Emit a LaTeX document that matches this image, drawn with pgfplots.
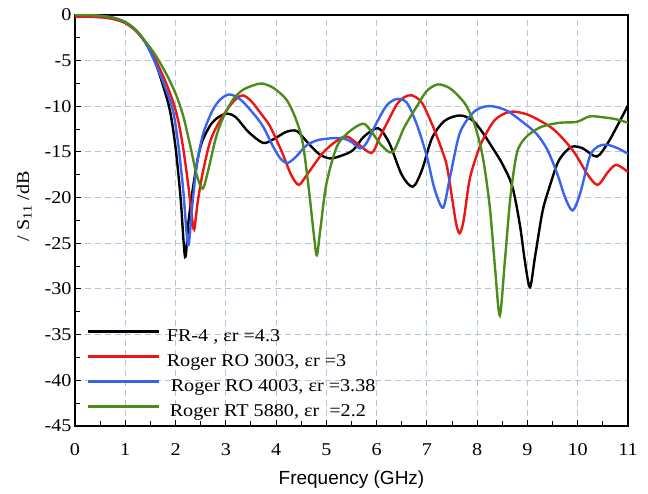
\documentclass[border=0pt]{standalone}
\usepackage{fontspec}
\setmainfont{Liberation Serif}[FakeStretch=1.12]
\newfontfamily\arialfont{Liberation Sans}
\usepackage{pgfplots}
\pgfplotsset{compat=1.18}
\definecolor{cred}{RGB}{238,20,20}
\definecolor{cblue}{RGB}{58,98,236}
\definecolor{cgreen}{RGB}{76,140,26}
\definecolor{gridc}{RGB}{176,196,222}
\begin{document}
\begin{tikzpicture}
\begin{axis}[
  scale only axis, width=553pt, height=411pt,
  xmin=0, xmax=11, ymin=-45, ymax=0,
  xtick={0,...,11}, ytick={-45,-40,...,0},
  minor x tick num=1, minor y tick num=1,
  tick pos=left, tick align=inside,
  major tick length=6pt, minor tick length=5pt,
  every tick/.style={black, line width=1pt},
  axis line style={line width=1.3pt},
  grid=major,
  grid style={gridc, line width=1pt, dash pattern=on 6pt off 4pt},
  tick label style={font=\fontsize{18}{21}\selectfont},
  xticklabel style={yshift=-14.5pt},
  /pgf/number format/assume math mode=true,
  xlabel={\arialfont Frequency (GHz)},
  xlabel style={at={(axis description cs:0.5,0)}, anchor=base, yshift=-59pt, font=\fontsize{19}{21}\selectfont},
  ylabel={/ S\textsubscript{11} /dB},
  ylabel style={at={(axis description cs:-0.092,0.535)}, anchor=center, font=\fontsize{18}{21}\selectfont},
  legend style={at={(rel axis cs:0,0)}, anchor=south west, xshift=12pt, yshift=5pt,
    draw=none, fill=none, inner sep=0pt, font=\fontsize{18}{21}\selectfont,
    nodes={inner sep=0pt, text height=13pt, text depth=4pt},
    row sep=8pt, /tikz/column 1/.style={column sep=7pt}},
  legend cell align=left,
  legend image code/.code={\draw[#1, line width=2.6pt] (0pt,6pt) -- (70pt,6pt);},
  every axis plot/.append style={line width=2.4pt, smooth, tension=0.5},
]
\coordinate (BL) at (rel axis cs:0,0);
\coordinate (TR) at (rel axis cs:1,1);
% FR-4
\addplot[black] coordinates {
(0,-0.05) (0.3,-0.08) (0.6,-0.2) (0.8,-0.4) (1.0,-0.8) (1.2,-1.6) (1.4,-3.0) (1.6,-5.2)
(1.8,-8.6) (1.9,-10.8) (2.0,-14.5) (2.1,-20) (2.19,-26.5) (2.26,-22.5) (2.35,-18.8)
(2.45,-15.5) (2.54,-13.7) (2.7,-12.0) (2.85,-11.2) (3.02,-10.8) (3.2,-11.2) (3.45,-12.8)
(3.74,-14.0) (3.95,-13.6) (4.2,-12.8) (4.41,-12.7) (4.6,-13.8) (4.85,-15.2) (5.07,-15.7)
(5.3,-15.4) (5.53,-14.8) (5.75,-13.3) (6.03,-12.4) (6.25,-14.0) (6.5,-17.5) (6.72,-18.8)
(6.9,-17) (7.1,-13.5) (7.35,-11.6) (7.65,-11.0) (7.9,-11.5) (8.1,-12.8) (8.3,-14.5)
(8.5,-16.3) (8.7,-18.8) (8.85,-23) (8.95,-27) (9.05,-29.8) (9.15,-26.5) (9.3,-21.5)
(9.44,-18.8) (9.6,-16.2) (9.75,-15.0) (9.9,-14.4) (10.1,-14.6) (10.38,-15.5) (10.6,-14)
(10.8,-12) (11.0,-9.9)
};
\addlegendentry{FR-4 , εr =4.3}
% RO 3003
\addplot[cred] coordinates {
(0,-0.2) (0.3,-0.2) (0.6,-0.3) (0.8,-0.5) (1.0,-0.9) (1.2,-1.7) (1.4,-3.0) (1.6,-4.9)
(1.8,-7.3) (1.95,-9.5) (2.05,-11.5) (2.15,-14.5) (2.25,-18.5) (2.32,-21.8) (2.37,-23.5)
(2.44,-20.5) (2.54,-17.3) (2.68,-14) (2.82,-12.2) (3.02,-10.4) (3.2,-9.2) (3.34,-8.8)
(3.5,-9.4) (3.7,-10.8) (3.88,-12.2) (4.1,-14.8) (4.3,-17.5) (4.45,-18.6) (4.6,-17.6)
(4.93,-15.1) (5.2,-13.8) (5.4,-13.3) (5.6,-14.0) (5.9,-15.1) (6.05,-13.5) (6.2,-11.9)
(6.4,-9.8) (6.55,-9.0) (6.7,-8.8) (6.9,-9.6) (7.12,-12.2) (7.3,-14.8) (7.4,-16.6)
(7.5,-20) (7.58,-22.8) (7.65,-23.9) (7.73,-22.5) (7.85,-18) (8.0,-15.2) (8.11,-13.7)
(8.35,-11.5) (8.65,-10.6) (9.0,-10.9) (9.44,-12.2) (9.7,-13.5) (9.95,-15.2) (10.2,-17.5)
(10.4,-18.6) (10.6,-17.2) (10.77,-16.4) (11.0,-17.2)
};
\addlegendentry{Roger RO 3003, εr =3}
% RO 4003
\addplot[cblue] coordinates {
(0,0) (0.3,-0.02) (0.6,-0.15) (0.8,-0.35) (1.0,-0.8) (1.2,-1.6) (1.4,-3.0) (1.6,-5.3)
(1.8,-8.0) (1.95,-10.5) (2.05,-14) (2.15,-19) (2.25,-25.2) (2.33,-21) (2.42,-16.5)
(2.55,-13.0) (2.74,-10.4) (2.9,-9.2) (3.08,-8.7) (3.3,-9.3) (3.55,-10.8) (3.74,-12.2)
(3.95,-14.5) (4.1,-15.8) (4.23,-16.2) (4.4,-15.5) (4.6,-14.3) (4.83,-13.7) (5.1,-13.5)
(5.33,-13.5) (5.5,-13.9) (5.67,-14.6) (5.8,-14.0) (6.0,-11.8) (6.2,-9.9) (6.4,-9.2)
(6.6,-9.6) (6.8,-12) (7.0,-15.5) (7.15,-19) (7.32,-21.1) (7.45,-18) (7.65,-13.0)
(7.9,-10.8) (8.1,-10.1) (8.31,-10.0) (8.6,-10.5) (8.9,-11.7) (9.18,-13.0) (9.4,-14.8)
(9.6,-17.5) (9.75,-20) (9.9,-21.4) (10.05,-19.5) (10.24,-15.5) (10.4,-14.4) (10.58,-14.2)
(10.8,-14.6) (11.0,-15.2)
};
\addlegendentry{\hspace{4pt}Roger RO 4003, εr =3.38}
% RT 5880
\addplot[cgreen] coordinates {
(0,0) (0.3,-0.02) (0.6,-0.15) (0.8,-0.35) (1.0,-0.8) (1.2,-1.6) (1.4,-2.9) (1.6,-4.4)
(1.83,-6.6) (2.0,-8.6) (2.15,-11) (2.3,-14.5) (2.42,-17.5) (2.54,-19.0) (2.65,-17)
(2.8,-13.5) (2.95,-11.2) (3.15,-9.2) (3.34,-8.2) (3.55,-7.7) (3.72,-7.5) (3.95,-8.0)
(4.21,-9.3) (4.4,-11.5) (4.53,-14) (4.65,-19) (4.75,-24) (4.81,-26.3) (4.88,-23.5)
(5.0,-18.5) (5.21,-14.4) (5.45,-12.8) (5.73,-11.9) (5.9,-12.8) (6.1,-14.3) (6.32,-15.0)
(6.55,-12.3) (6.8,-10.0) (7.0,-8.3) (7.22,-7.6) (7.45,-8.0) (7.65,-9.0) (7.79,-10.0)
(7.95,-12) (8.11,-15.5) (8.25,-21) (8.36,-28) (8.45,-32.9) (8.55,-27) (8.66,-20)
(8.79,-15.1) (8.95,-13.5) (9.1,-12.8) (9.3,-12.2) (9.64,-11.8) (9.98,-11.7) (10.24,-11.1)
(10.5,-11.2) (10.75,-11.4) (11.0,-11.8)
};
\addlegendentry{\hspace{3pt}Roger RT 5880, εr \ =2.2}
\end{axis}
\pgfresetboundingbox
\path[use as bounding box] ([shift={(-75pt,-68pt)}]BL) rectangle ([shift={(20pt,15pt)}]TR);
\end{tikzpicture}
\end{document}
